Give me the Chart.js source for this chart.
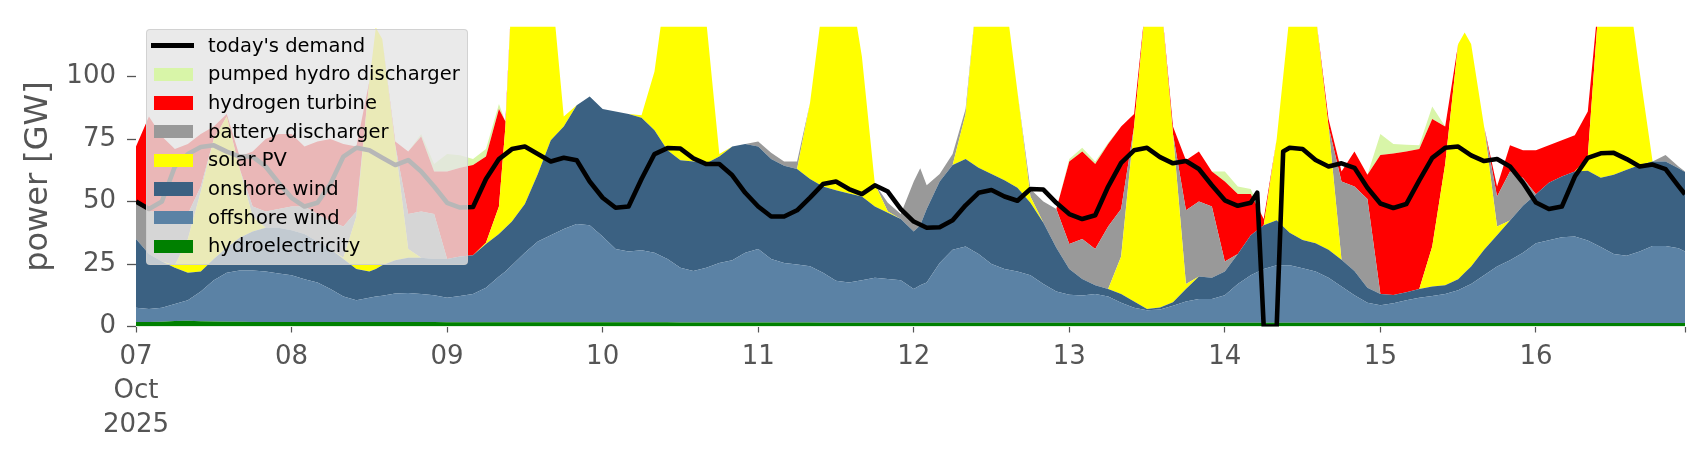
<!DOCTYPE html>
<html>
<head>
<meta charset="utf-8">
<title>power</title>
<script src="https://cdn.jsdelivr.net/npm/chart.js"></script>
<style>
    body { margin: 0; background: #fff; }
    .wrap { position: relative; width: 1706px; height: 460px; }
    #legend {
        position: absolute; left: 146px; top: 29px; width: 322px; height: 236px;
        box-sizing: border-box; border-radius: 4px;
        background: rgba(229, 229, 229, 0.8);
        border: 1px solid rgba(204, 204, 204, 0.8);
        font-family: 'DejaVu Sans', sans-serif; font-size: 19.5px; color: #000;
    }
    .item { position: absolute; left: 0; width: 320px; height: 28px; }
    .item .mark { position: absolute; }
    .item .txt { position: absolute; left: 61px; top: 0; line-height: 28px; white-space: nowrap; }
</style>
</head>
<body>
<div class="wrap">
    <canvas id="chart" width="1706" height="460"></canvas>
    <div id="legend"></div>
</div>
<script>
// hours since 07 Oct 2025 00:00
var hours = [
    0, 2, 4, 6, 8, 10, 12, 14, 16, 18, 20, 22,
    24, 26, 28, 30, 32, 34, 36, 37, 38, 40, 42, 44, 46,
    48, 50, 52, 54, 56, 57, 58, 60, 62, 64, 66, 68, 70,
    72, 74, 76, 78, 80, 82, 84, 86, 88, 90, 92, 94,
    96, 98, 100, 102, 104, 106, 108, 110, 112, 114, 116, 118,
    120, 121, 122, 124, 126, 128, 130, 132, 134, 136, 138, 140, 142,
    144, 146, 148, 150, 152, 154, 156, 158, 160, 162, 164, 166,
    168, 170, 172, 174, 176, 178, 180, 182, 184, 186, 188, 190,
    192, 194, 196, 198, 200, 202, 204, 205, 206, 208, 210, 212, 214,
    216, 218, 220, 222, 224, 226, 228, 230, 232, 234, 236, 238, 239
];

// GW
var hydro = [
    1.8, 1.8, 1.9, 2.2, 2.3, 2.1, 2.0, 1.9, 1.9, 1.8, 1.8, 1.8,
    1.8, 1.8, 1.8, 1.8, 1.8, 1.8, 1.8, 1.8, 1.8, 1.8, 1.8, 1.8, 1.8,
    1.7, 1.7, 1.7, 1.7, 1.7, 1.7, 1.7, 1.7, 1.7, 1.7, 1.7, 1.7, 1.7,
    1.7, 1.7, 1.7, 1.7, 1.7, 1.7, 1.6, 1.6, 1.6, 1.6, 1.6, 1.6,
    1.6, 1.6, 1.6, 1.6, 1.6, 1.5, 1.5, 1.5, 1.5, 1.5, 1.5, 1.5,
    1.5, 1.5, 1.5, 1.5, 1.5, 1.5, 1.5, 1.5, 1.5, 1.5, 1.5, 1.5, 1.5,
    1.5, 1.5, 1.5, 1.5, 1.5, 1.5, 1.5, 1.5, 1.5, 1.5, 1.5, 1.5,
    1.5, 1.5, 1.5, 1.5, 1.5, 1.5, 1.5, 1.5, 1.5, 1.5, 1.5, 1.4,
    1.4, 1.4, 1.4, 1.4, 1.4, 1.4, 1.4, 1.4, 1.4, 1.4, 1.4, 1.4, 1.4,
    1.4, 1.4, 1.4, 1.4, 1.4, 1.4, 1.4, 1.4, 1.4, 1.4, 1.4, 1.4, 1.4
];
var offshore = [
    5.7, 5.2, 5.6, 6.8, 8.2, 11.9, 16.5, 19.6, 20.5, 20.6, 20.2, 19.4,
    18.7, 17.1, 15.8, 13.2, 10.2, 8.7, 9.7, 10.2, 10.5, 11.4, 11.6, 11.2, 10.7,
    9.8, 10.5, 11.3, 13.8, 18.3, 20.3, 22.8, 27.8, 32.3, 34.8, 37.3, 39.3, 38.8,
    34.3, 29.3, 28.3, 28.8, 27.8, 25.3, 21.9, 20.6, 21.9, 23.8, 24.9, 27.9,
    29.4, 25.4, 23.8, 23.2, 22.5, 20, 16.8, 16.1, 17, 18, 17.5, 17,
    13.5, 15, 16.1, 23.9, 29.2, 30.5, 27.5, 23.5, 21.5, 20.5, 19, 15.5, 12.5,
    11.2, 10.9, 11.5, 10.5, 8, 6, 5, 5.3, 6.8, 8.5, 9.5, 9.5,
    11, 15.5, 19, 21.5, 23, 23, 21.8, 20.5, 18, 14.5, 11, 8.1,
    7.1, 7.9, 9.1, 10.1, 10.8, 11.6, 13.1, 14.4, 15.6, 19.1, 22.6, 25.1, 28.1,
    31.9, 33.1, 34.3, 34.6, 33, 30.4, 27.6, 26.9, 28.6, 30.8, 30.8, 29.9, 28.6
];
var onshore = [
    27.5, 22, 18.5, 14.5, 11, 8, 8.5, 10, 13.1, 15.6, 17.5, 18.3,
    18, 18.1, 16.4, 16, 15, 12.5, 10.5, 11, 12.2, 13.3, 14.1, 14.5, 14.5,
    15.5, 15.8, 15.5, 17.5, 17, 17.5, 17.5, 19.5, 27, 38, 41, 47.5, 51.5,
    51, 55, 55, 53, 49, 43.5, 43, 43.8, 41.8, 42.6, 45.5, 43.5,
    41, 40, 38.9, 38.2, 34.9, 34.5, 36.2, 35.6, 33.5, 28.5, 26.5, 24.5,
    23, 24, 29.4, 32.6, 33.9, 35, 34.5, 36, 35.5, 33.5, 29, 24.5, 17.5,
    10.3, 6.6, 3.5, 3, 3.5, 2.5, 0.5, 0.8, 1.4, 5, 9, 8.5,
    9.5, 12, 16, 17.5, 18, 13, 11.3, 11.3, 11.2, 10.7, 9.7, 6,
    4.5, 3.3, 3.2, 3.5, 3.8, 3.5, 4.4, 5.7, 7, 10.2, 12.5, 15.9, 18.8,
    19.6, 23, 24.3, 26, 27.9, 27.7, 31.7, 34.4, 34.6, 33.8, 33.8, 32, 31.8
];
var solar = [
    0, 0, 0, 1, 13.5, 32, 48, 52.5, 27.5, 6, 0, 0,
    0, 0, 0, 0, 0.5, 21, 76, 96.5, 90.5, 46, 3.5, 0, 0,
    0, 0, 0, 0.5, 11, 40.5, 93, 101, 89, 65.5, 4, 0, 0,
    0, 0, 0, 1, 23.5, 69.5, 83.5, 79, 56.7, 1, 0, 0,
    0, 0, 0, 0, 30.5, 74, 90.5, 86.8, 56, 9, 0.5, 0,
    0, 0, 0, 0, 0, 18, 76.5, 89, 76.5, 38.5, 2.5, 0, 0,
    0, 0, 0, 0, 15, 70, 128, 127.4, 67.3, 2, 0, 0,
    0, 0, 0, 0, 32.5, 87.5, 115.4, 91.7, 49.3, 0, 0, 0,
    0, 0, 0, 0, 16, 48.5, 94.1, 96.1, 89, 49.3, 3.5, 0, 0,
    0, 0, 0, 0, 5.7, 80.5, 89.3, 77.3, 37.4, 0, 0, 0, 0
];
var battery = [
    14, 17, 20, 20.5, 10, 2, 0, 0, 0, 4, 6.5, 7.5,
    9.5, 11, 11, 11, 12.5, 2, 0, 0, 0, 0, 14, 18.5, 18,
    0, 0, 0, 0, 0, 0, 0, 0, 0, 0, 0, 0, 0,
    0, 0, 0, 0, 0, 0, 0, 0, 0, 0, 0, 0,
    2, 2.5, 1.7, 3, 0, 0, 0, 0, 0, 0, 3.5, 2,
    20, 22.8, 9.5, 3, 4.4, 2, 0, 0, 0, 0, 3, 8.5, 15.5,
    10, 16, 14.5, 25, 19, 0, 0, 0, 0, 29.5, 30, 28.5,
    4, 0, 0, 0, 0, 0, 0, 0, 0, 31.3, 33.8, 35.5,
    0, 0, 0, 0, 0, 0, 0, 0, 0, 0, 12, 19.6, 11.1,
    0, 0, 0, 0, 0, 0, 0, 0, 0, 0, 2.6, 0.7, 0.2
];
var hydrogen = [
    23, 38, 30, 26, 28, 21, 5, 1, 5, 22, 29, 30,
    29, 24, 29, 33, 33, 26, 0, 0, 0, 1.5, 25, 30, 17,
    35, 35.5, 36.1, 34.5, 39, 2, 0, 0, 0, 0, 0, 0, 0,
    0, 0, 0, 0, 0, 0, 0, 0, 0, 0, 0, 0,
    0, 0, 0, 0, 0, 0, 0, 0, 0, 0, 0, 0,
    0, 0, 0, 0, 0, 0, 0, 0, 0, 0, 0, 0, 0,
    33, 35, 34, 33, 33, 5, 0, 0, 3, 20, 20, 14,
    32, 24, 16.5, 2.5, 0, 0, 0, 0, 3, 4, 14, 9.7,
    55.6, 56.6, 56.3, 56, 51, 15, 0, 0, 0, 0, 4, 10.5, 11.1,
    17.6, 15, 14.5, 14.5, 18, 0, 0, 0, 0, 0, 0, 0, 0
];
var pumped = [
    0, 0, 0, 0, 0, 0, 0, 0, 0, 0, 0, 0,
    0, 0, 0, 0, 0, 0, 0, 0, 0, 0, 0, 1, 3,
    7, 5, 2.4, 3, 2, 0, 0, 0, 0, 0, 0, 0, 0,
    0, 0, 0, 0, 0, 0, 0, 0, 0, 0, 0, 0,
    0, 0, 0, 0, 0, 0, 0, 0, 0, 0, 0, 0,
    0, 0, 0, 0, 0, 0, 0, 0, 0, 0, 0, 0, 0,
    1, 1.5, 1, 0.5, 0, 0, 0, 0, 0, 0, 0, 0,
    4, 3, 2, 0, 0, 0, 0, 0, 0, 0, 0, 0,
    8.4, 3.8, 2.7, 1.5, 5, 0, 0, 0, 0, 0, 0, 0, 0,
    0, 0, 0, 0, 0, 0, 0, 0, 0, 0, 0, 0, 0
];

var demandHours = [
    0, 2, 4, 6, 8, 10, 12, 14, 16, 18, 20, 22,
    24, 26, 28, 30, 32, 34, 36, 38, 40, 42, 44, 46,
    48, 50, 52, 54, 56, 58, 60, 62, 64, 66, 68, 70,
    72, 74, 76, 78, 80, 82, 84, 86, 88, 90, 92, 94,
    96, 98, 100, 102, 104, 106, 108, 110, 112, 114, 116, 118,
    120, 122, 124, 126, 128, 130, 132, 134, 136, 138, 140, 142,
    144, 146, 148, 150, 152, 154, 156, 158, 160, 162, 164, 166,
    168, 170, 172, 173, 174, 175, 176, 177, 178, 180, 182, 184, 186, 188, 190,
    192, 194, 196, 198, 200, 202, 204, 206, 208, 210, 212, 214,
    216, 218, 220, 222, 224, 226, 228, 230, 232, 234, 236, 238, 239
];
var demand = [
    50, 47, 50, 64, 69, 71.8, 72.5, 70, 68, 68, 64, 57.5,
    51.5, 48, 49.5, 57, 68, 71.5, 70.5, 67.5, 64.6, 66.6, 62, 56,
    49.5, 47.6, 47.8, 59, 67, 71, 72, 69, 66, 67.5, 66.5, 58,
    51.5, 47.5, 48, 59, 69, 71.4, 71.2, 67.3, 65, 65, 60.5, 53.5,
    48, 44, 44, 46.5, 51.6, 57, 58, 55, 53, 56.5, 54, 47,
    42, 39.5, 39.7, 42.5, 48.5, 53.5, 54.6, 52, 50.3, 55, 54.8, 49.5,
    45, 43, 44.5, 56, 65.5, 70.5, 71.5, 67.8, 65.3, 66.2, 63, 56.5,
    50.5, 48.3, 49.5, 53.5, 0, 0, 0, 70, 71.5, 71, 66.6, 64, 65.3, 63.5, 55.5,
    49.2, 47.4, 49, 58.5, 67.5, 71.5, 72, 68.5, 66.2, 67, 64, 57.5,
    49.6, 47, 48, 60, 67.5, 69.3, 69.5, 67, 64, 64.8, 63, 56.2, 52.9
];

var tickHours = [0, 24, 48, 72, 96, 120, 144, 168, 192, 216, 239];
var tickLabels = [['07', 'Oct', '2025'], '08', '09', '10', '11', '12', '13', '14', '15', '16', ''];
var yTicks = [0, 25, 50, 75, 100];

Chart.defaults.font.family = "'DejaVu Sans', sans-serif";

function pts(xs, vals) {
    return vals.map(function(v, i) { return {x: xs[i], y: v}; });
}

function area(label, vals, color, first) {
    return {
        label: label,
        data: pts(hours, vals),
        backgroundColor: color,
        borderColor: 'rgba(0,0,0,0)',
        borderWidth: 0,
        pointRadius: 0,
        tension: 0,
        fill: first ? 'origin' : '-1'
    };
}

var chart = new Chart(document.getElementById('chart'), {
    type: 'line',
    data: {
        datasets: [
            {
                label: "today's demand",
                data: pts(demandHours, demand),
                borderColor: '#000000',
                backgroundColor: '#000000',
                borderWidth: 4.6,
                borderJoinStyle: 'round',
                pointRadius: 0,
                tension: 0,
                fill: false,
                stack: 'demand',
                order: -1
            },
            area('hydroelectricity', hydro, '#008000', true),
            area('offshore wind', offshore, '#5b82a5'),
            area('onshore wind', onshore, '#3b6182'),
            area('solar PV', solar, '#ffff00'),
            area('battery discharger', battery, '#999999'),
            area('hydrogen turbine', hydrogen, '#ff0000'),
            area('pumped hydro discharger', pumped, '#d8f5a8')
        ]
    },
    options: {
        responsive: false,
        animation: false,
        devicePixelRatio: 1,
        layout: { padding: { top: 22, right: 21, left: 0, bottom: 0 } },
        plugins: { legend: { display: false }, tooltip: { enabled: false } },
        scales: {
            x: {
                type: 'linear',
                min: 0,
                max: 239,
                border: { display: false },
                grid: { drawOnChartArea: false, drawTicks: true, tickLength: 6, tickColor: '#555555', tickWidth: 1.2 },
                ticks: {
                    autoSkip: false,
                    maxRotation: 0,
                    color: '#555555',
                    padding: 8,
                    font: { size: 26, lineHeight: 1.3 },
                    callback: function(v) {
                        var i = tickHours.indexOf(v);
                        return i < 0 ? '' : tickLabels[i];
                    }
                },
                afterBuildTicks: function(s) {
                    s.ticks = tickHours.map(function(v) { return {value: v}; });
                },
                afterFit: function(s) { s.height = 133.5; }
            },
            y: {
                stacked: true,
                min: 0,
                max: 120,
                border: { display: false },
                grid: { drawOnChartArea: false, drawTicks: true, tickLength: 9, tickColor: '#555555', tickWidth: 1.3 },
                ticks: { color: '#555555', padding: 11, font: { size: 26 } },
                afterBuildTicks: function(s) {
                    s.ticks = yTicks.map(function(v) { return {value: v}; });
                },
                title: {
                    display: true,
                    text: 'power [GW]',
                    color: '#555555',
                    font: { size: 32 },
                    padding: { top: 19, bottom: 0 }
                },
                afterFit: function(s) { s.width = 136; }
            }
        }
    }
});

// legend: demand first, then the stack from top to bottom
var legendEl = document.getElementById('legend');
var legendOrder = [0, 7, 6, 5, 4, 3, 2, 1];
legendOrder.forEach(function(di, row) {
    var ds = chart.data.datasets[di];
    var item = document.createElement('div');
    item.className = 'item';
    item.style.top = (1.5 + row * 28.7) + 'px';
    var mark = document.createElement('div');
    mark.className = 'mark';
    if (di === 0) {
        mark.style.left = '4px'; mark.style.width = '43px';
        mark.style.top = '11.6px'; mark.style.height = '4.8px';
        mark.style.background = ds.borderColor;
    } else {
        mark.style.left = '7px'; mark.style.width = '38.5px';
        mark.style.top = '7.4px'; mark.style.height = '13.3px';
        mark.style.background = ds.backgroundColor;
    }
    var txt = document.createElement('div');
    txt.className = 'txt';
    txt.textContent = ds.label;
    item.appendChild(mark);
    item.appendChild(txt);
    legendEl.appendChild(item);
});
</script>
</body>
</html>
